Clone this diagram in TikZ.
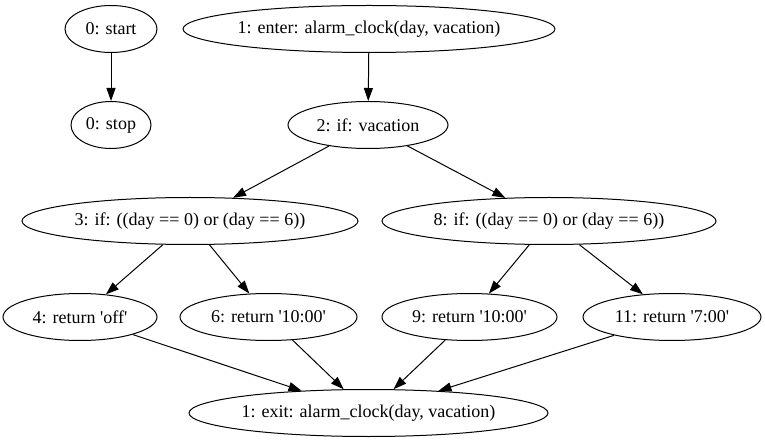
\documentclass[tikz,border=0pt]{standalone}
\usepackage{fontspec}
\setmainfont{Liberation Serif}
\usetikzlibrary{shapes.geometric,arrows.meta}
\newcommand{\sq}{\textquotesingle}
\tikzset{
  blob/.style={draw,ellipse,inner sep=0pt,minimum height=47,line width=1pt},
  flow/.style={-{Triangle[length=13pt,width=9pt]},line width=1pt},
}

\begin{document}
\begin{tikzpicture}[x=1pt,y=-1pt,font=\rmfamily\fontsize{18}{22}\selectfont]
\useasboundingbox (0,0) rectangle (765,443);
% row 1
\node[blob,minimum width=92] (start) at (111,29) {0: start};
\node[blob,minimum width=372] (enter) at (369,29) {1: enter: alarm\_clock(day, vacation)};
% row 2
\node[blob,minimum width=80] (stop) at (111,125) {0: stop};
\node[blob,minimum width=160] (if2) at (368,125) {2: if: vacation};
% row 3
\node[blob,minimum width=336] (if3) at (190,221) {3: if: ((day == 0) or (day == 6))};
\node[blob,minimum width=334] (if8) at (549,221) {8: if: ((day == 0) or (day == 6))};
% row 4
\node[blob,minimum width=154] (ret4) at (80,317) {4: return \sq off\sq};
\node[blob,minimum width=177] (ret6) at (268.5,317) {6: return \sq 10:00\sq};
\node[blob,minimum width=175] (ret9) at (469.5,317) {9: return \sq 10:00\sq};
\node[blob,minimum width=178] (ret11) at (672,317) {11: return \sq 7:00\sq};
% row 5
\node[blob,minimum width=359] (exit) at (368.5,413) {1: exit: alarm\_clock(day, vacation)};

\draw[flow] (start) -- (stop);
\draw[flow] (enter) -- (if2);
\draw[flow] (if2) -- (if3);
\draw[flow] (if2) -- (if8);
\draw[flow] (if3) -- (ret4);
\draw[flow] (if3) -- (ret6);
\draw[flow] (if8) -- (ret9);
\draw[flow] (if8) -- (ret11);
\draw[flow] (ret4) -- (exit);
\draw[flow] (ret6) -- (exit);
\draw[flow] (ret9) -- (exit);
\draw[flow] (ret11) -- (exit);
\end{tikzpicture}
\end{document}
